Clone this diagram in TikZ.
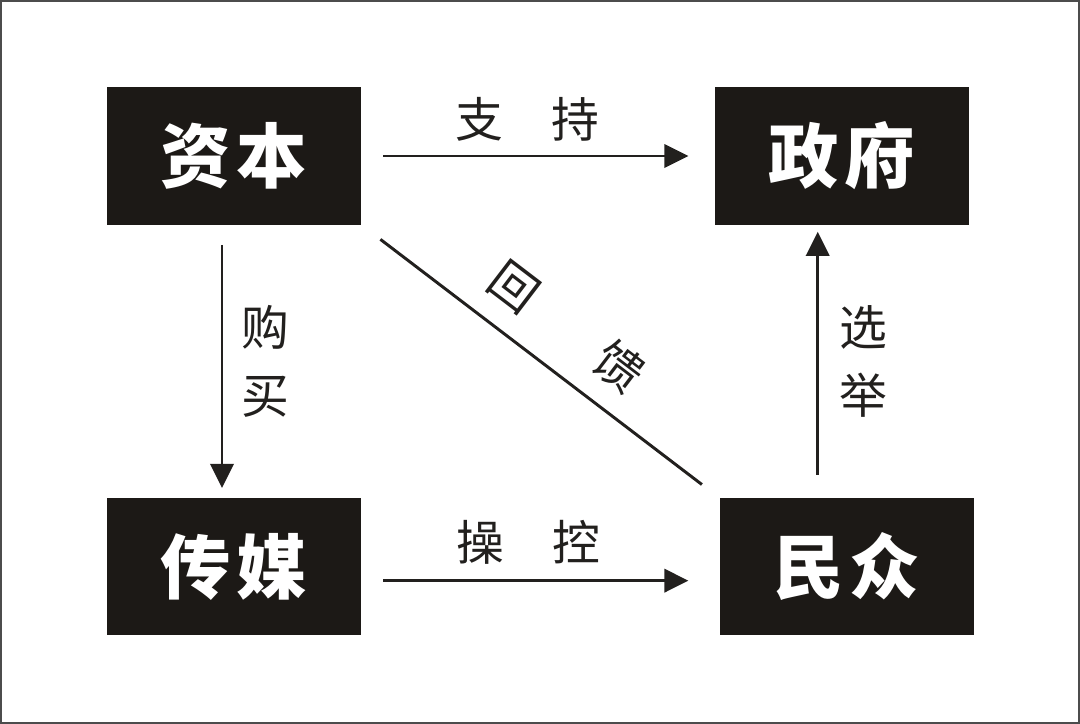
\documentclass[tikz,border=0pt]{standalone}
\usepackage{fontspec}
\newfontfamily\cjk{Noto Sans CJK SC}
\usetikzlibrary{arrows.meta,positioning}
\definecolor{boxblack}{RGB}{28,25,22}
\definecolor{inkgray}{RGB}{34,32,30}

\begin{document}
\begin{tikzpicture}[
  x=0.025cm, y=-0.025cm,
  box/.style={fill=boxblack, text=white, inner sep=0pt, minimum width=6.35cm, minimum height=3.425cm, font={\cjk\bfseries\fontsize{50}{56}\selectfont}},
  tag/.style={inner sep=0pt, text=inkgray, align=center, font={\cjk\fontsize{34}{48}\selectfont}},
  link/.style={draw=inkgray, line width=2.1pt, -{Triangle[length=0.6cm, width=0.58cm]}}
]
\useasboundingbox (0,0) rectangle (1080,724);
\draw[black!70, line width=0.05cm] (1,1) rectangle (1079,723);

\node[box] at (234,156) (capital) {资\hspace{0.08em}本};
\node[box, right=8.825cm of capital] (govt) {政\hspace{0.08em}府};
\node[box, below=6.825cm of capital] (media) {传\hspace{0.08em}媒};
\node[box, right=8.95cm of media] (people) {民\hspace{0.08em}众};

\draw[link, shorten <=0.55cm, shorten >=0.65cm] (capital.east) -- node[tag, pos=0.47, above=0.33cm] {支\hspace{1em}持} (govt.west);
\draw[link, shorten <=0.55cm, shorten >=0.775cm] ([yshift=-0.35cm]media.east) -- node[tag, pos=0.466, above=0.38cm] {操\hspace{1em}控} ([yshift=-0.35cm]people.west);
\draw[link, shorten <=0.5cm, shorten >=0.25cm] ([xshift=-0.3cm]capital.south) -- node[tag, right=0.45cm] {购\\买} ([xshift=-0.3cm]media.north);
\draw[link, shorten <=0.575cm, shorten >=0.175cm] ([xshift=-0.725cm]people.north) -- node[tag, right=0.5cm] {选\\举} ([xshift=-0.725cm]people.north |- govt.south);
\draw[draw=inkgray, line width=2.1pt, shorten <=0.6cm, shorten >=0.55cm] (capital.south east) -- node[tag, pos=0.5, sloped, anchor=south, inner ysep=0.5cm] {回\hspace{1.75em}馈} (people.north west);
\end{tikzpicture}
\end{document}
